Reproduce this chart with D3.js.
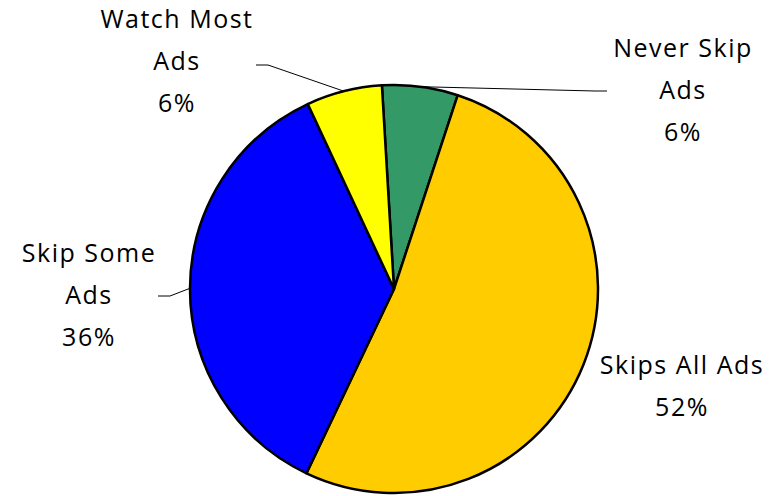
<!DOCTYPE html>
<html>
<head>
<meta charset="utf-8">
<script src="https://cdn.jsdelivr.net/npm/d3@7"></script>
<style>
  body { margin: 0; background: #fff; }
  text { font-family: "Open Sans", sans-serif; font-size: 25px; letter-spacing: 1.5px; fill: #000; }
</style>
</head>
<body>
<script>
var categories = ["Never Skip Ads", "Skips All Ads", "Skip Some Ads", "Watch Most Ads"];
var values = [6, 52, 36, 6];
var labelLines = [["Never Skip", "Ads", "6%"], ["Skips All Ads", "52%"], ["Skip Some", "Ads", "36%"], ["Watch Most", "Ads", "6%"]];
var colors = ["#339966", "#FFCC00", "#0000FF", "#FFFF00"];

var width = 779, height = 496;
var cx = 394, cy = 289, radius = 204;

// where each label block sits (centre x, first baseline), and the outer end of its leader line
var labelPos = [
  {x: 683, y: 57, leader: [607, 91]},
  {x: 682, y: 374, leader: null},
  {x: 89, y: 262, leader: [158, 296]},
  {x: 177, y: 28, leader: [256, 65]}
];
var lineGap = 42;

var svg = d3.select("body").append("svg")
    .attr("width", width)
    .attr("height", height);

var start = -3.4 * Math.PI / 180;
var pie = d3.pie().sort(null)
    .startAngle(start)
    .endAngle(start + 2 * Math.PI);

var arc = d3.arc().innerRadius(0).outerRadius(radius);

var arcs = pie(values);

var g = svg.append("g").attr("transform", "translate(" + cx + "," + cy + ")");

g.selectAll("path")
    .data(arcs)
    .enter().append("path")
    .attr("d", arc)
    .attr("fill", function(d, i) { return colors[i]; })
    .attr("stroke", "#000")
    .attr("stroke-width", 2.5)
    .attr("stroke-linejoin", "round");

// leader lines from slice edge to label
arcs.forEach(function(d, i) {
  var lp = labelPos[i];
  if (!lp.leader) return;
  var a = (d.startAngle + d.endAngle) / 2;
  var ax = cx + Math.sin(a) * radius, ay = cy - Math.cos(a) * radius;
  var ex = lp.leader[0], ey = lp.leader[1];
  var dir = ax > ex ? 1 : -1;
  svg.append("polyline")
      .attr("points", [[ex, ey], [ex + dir * 12, ey], [ax, ay]].map(function(p) { return p.join(","); }).join(" "))
      .attr("fill", "none")
      .attr("stroke", "#000")
      .attr("stroke-width", 1);
});

labelPos.forEach(function(lp, i) {
  var t = svg.append("text")
      .attr("text-anchor", "middle");
  labelLines[i].forEach(function(s, k) {
    t.append("tspan")
        .attr("x", lp.x)
        .attr("y", lp.y + k * lineGap)
        .text(s);
  });
});
</script>
</body>
</html>
